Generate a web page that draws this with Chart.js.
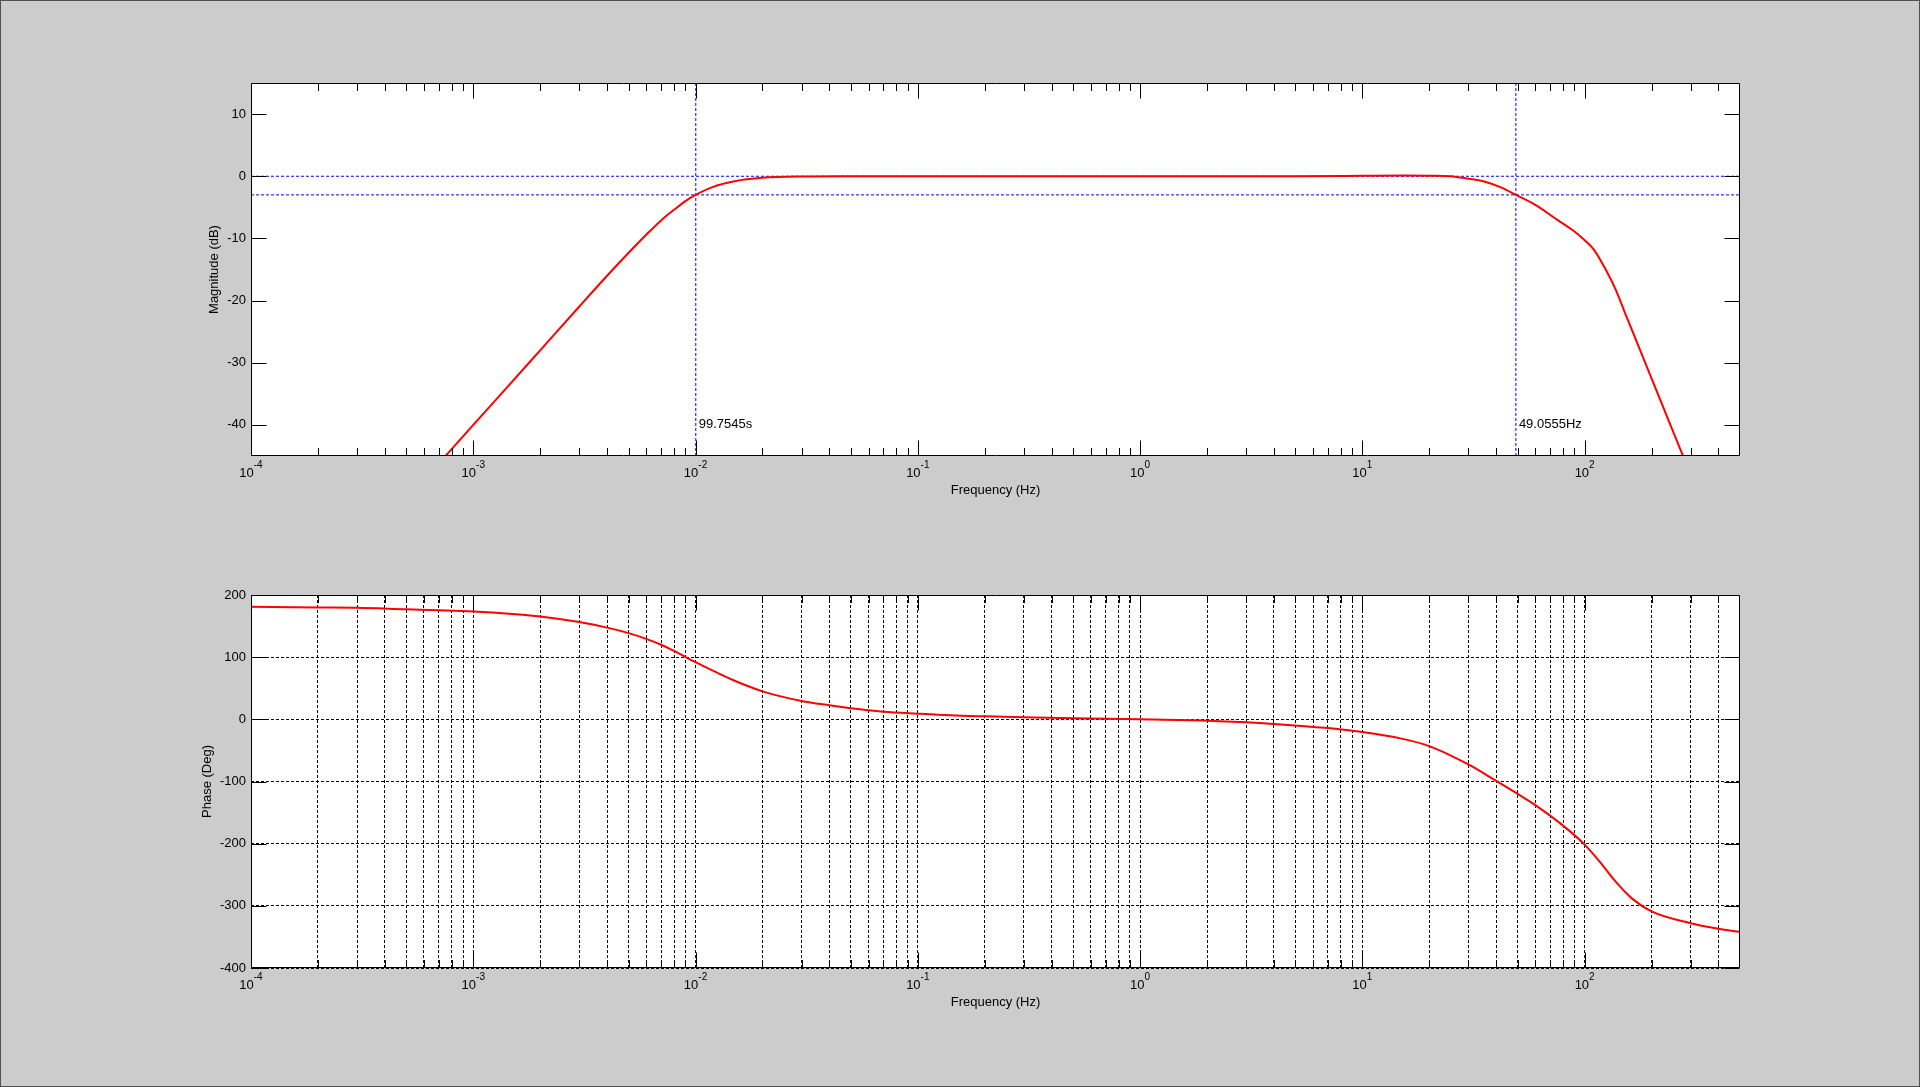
<!DOCTYPE html>
<html>
<head>
	<meta charset="utf-8">
	<script src="https://cdn.jsdelivr.net/npm/chart.js@4.4.1/dist/chart.umd.min.js"></script>
	<style>
	body{
		margin: 0;
		background: #cccccc;
		font-family: "Liberation Sans", Arial, sans-serif;
	}
	#frame{
		position: absolute;
		left: 0; top: 0;
		width: 1920px; height: 1087px;
		box-sizing: border-box;
		border: 1px solid #505050;
		overflow: hidden;
	}
	.holder{ position: absolute; left: 0; width: 1920px; }
	</style>
</head>
<body>
<div id="frame">
	<div class="holder" style="top:0px;height:530px;"><canvas id="mag" width="1920" height="530"></canvas></div>
	<div class="holder" style="top:530px;height:557px;"><canvas id="phase" width="1920" height="557"></canvas></div>
</div>

<script>
	// x axis: decades with minor steps, tick labels are the exponents
	var decades = [1e-4, 1e-3, 1e-2, 1e-1, 1, 10, 100];
	var decadeExp = ['-4', '-3', '-2', '-1', '0', '1', '2'];
	var minorSteps = [1, 2, 3, 4, 5, 6, 7, 8, 9];
	var freqMin = 1e-4, freqMax = 500;

	// y axes
	var magTicks = [-40, -30, -20, -10, 0, 10];
	var phaseTicks = [-400, -300, -200, -100, 0, 100, 200];

	// magnitude curve
	var magFreq = [7e-4, 1e-3, 1.5e-3, 2e-3, 3e-3, 4e-3, 5e-3, 6e-3, 7e-3, 8e-3, 9e-3, 0.010, 0.012, 0.015, 0.02, 0.03, 0.05, 0.1, 1, 5, 10, 15, 20, 25, 30, 35, 42, 49, 60, 76, 90, 100, 110, 120, 137, 152, 170, 200, 240, 275, 300];
	var magDb   = [-46.2, -40.0, -33.0, -28.0, -20.95, -16.0, -12.3, -9.4, -7.1, -5.4, -4.0, -3.0, -1.7, -0.8, -0.26, -0.05, -0.01, 0, 0, 0.02, 0.08, 0.12, 0.1, 0, -0.4, -0.8, -1.8, -3.0, -4.6, -7.1, -8.9, -10.3, -11.8, -14.0, -18.0, -22.0, -26.3, -32.5, -39.5, -44.7, -48.0];

	// phase curve
	var phaseFreq = [1e-4, 2e-4, 3e-4, 5e-4, 7e-4, 1e-3, 1.5e-3, 2e-3, 3e-3, 4e-3, 5e-3, 6e-3, 7e-3, 8e-3, 1e-2, 0.0125, 0.015, 0.02, 0.03, 0.04, 0.05, 0.07, 0.1, 0.14, 0.2, 0.3, 0.5, 1, 2, 3, 4, 5.3, 7, 10, 15, 20, 30, 40, 50, 60, 80, 100, 120, 137, 163, 200, 300, 400, 500];
	var phaseDeg  = [181, 180, 179.5, 177, 175.5, 173.5, 169.5, 165.6, 156.5, 147.5, 138.7, 129.5, 120, 110, 92, 75, 62, 45, 29.5, 22.5, 17.7, 12.3, 9.1, 6.5, 4.8, 3.2, 1.6, 0, -2.2, -4.8, -7.5, -10.8, -14, -20.4, -31, -43, -72.6, -99, -120, -138, -171, -201.6, -234, -260, -288, -309, -328, -337, -342];

	// -3 dB cursors
	var cursorFreq = [0.010025, 49.0555];
	var cursorText = ['99.7545s', '49.0555Hz'];
	var cursorDb = [0, -3];
	var cursorTextDb = -40;

	var FONT = '"Liberation Sans", Arial, sans-serif';
	Chart.defaults.color = '#000';
	Chart.defaults.font.family = FONT;
	Chart.defaults.font.size = 13;

	var xTicks = [];
	decades.forEach(function (d) {
		minorSteps.forEach(function (s) {
			var v = +(d * s).toPrecision(3);
			if (v >= freqMin && v < freqMax) xTicks.push({value: v, major: s === 1});
		});
	});

	function pts(xs, ys) {
		return xs.map(function (v, i) { return {x: v, y: ys[i]}; });
	}

	var matlabAxes = {
		id: 'matlabAxes',
		beforeDraw: function (chart) {
			var a = chart.chartArea, ctx = chart.ctx;
			ctx.save();
			ctx.fillStyle = '#ffffff';
			ctx.fillRect(a.left, a.top, a.right - a.left, a.bottom - a.top);
			ctx.restore();
		},
		afterDatasetsDraw: function (chart) {
			var ctx = chart.ctx, a = chart.chartArea, x = chart.scales.x, y = chart.scales.y;
			var L = Math.round(a.left) + 0.5, R = Math.round(a.right) - 0.5;
			var T = Math.round(a.top) + 0.5, B = Math.round(a.bottom) - 0.5;
			ctx.save();
			ctx.setLineDash([]);
			ctx.strokeStyle = '#000';
			ctx.lineWidth = 1;
			ctx.beginPath();
			x.ticks.forEach(function (t) {
				var px = Math.round(x.getPixelForValue(t.value)) + 0.5;
				var len = t.major ? 15 : 7.5;
				ctx.moveTo(px, T); ctx.lineTo(px, T + len);
				ctx.moveTo(px, B); ctx.lineTo(px, B - len);
			});
			y.ticks.forEach(function (t) {
				var py = Math.round(y.getPixelForValue(t.value)) + 0.5;
				ctx.moveTo(L, py); ctx.lineTo(L + 15, py);
				ctx.moveTo(R, py); ctx.lineTo(R - 15, py);
			});
			ctx.rect(L, T, R - L, B - T);
			ctx.stroke();

			// decade labels 10^n
			ctx.fillStyle = '#000';
			ctx.textBaseline = 'alphabetic';
			ctx.textAlign = 'left';
			decades.forEach(function (d, i) {
				var px = x.getPixelForValue(d);
				ctx.font = '13px ' + FONT;
				var wb = ctx.measureText('10').width;
				ctx.font = '10px ' + FONT;
				var we = ctx.measureText(decadeExp[i]).width;
				var x0 = px - (wb + we) / 2;
				ctx.font = '13px ' + FONT;
				ctx.fillText('10', x0, a.bottom + 21);
				ctx.font = '10px ' + FONT;
				ctx.fillText(decadeExp[i], x0 + wb, a.bottom + 12);
			});

			// cursor readouts
			if (chart.canvas.id === 'mag') {
				ctx.font = '13px ' + FONT;
				ctx.textBaseline = 'middle';
				cursorFreq.forEach(function (f, i) {
					ctx.fillText(cursorText[i], x.getPixelForValue(f) + 3, y.getPixelForValue(cursorTextDb));
				});
			}
			ctx.restore();
		}
	};

	function xScale(grid) {
		return {
			type: 'logarithmic',
			min: freqMin,
			max: freqMax,
			afterBuildTicks: function (scale) { scale.ticks = xTicks.map(function (t) { return {value: t.value, major: t.major}; }); },
			afterFit: function (scale) { scale.height = 50; },
			ticks: { display: false, autoSkip: false },
			grid: { display: grid, color: '#000', lineWidth: 1, drawTicks: false },
			border: { display: false, dash: [3, 2] },
			title: { display: true, text: 'Frequency (Hz)', padding: {top: 0, bottom: 8.2}, font: {size: 13} }
		};
	}

	function yScale(min, max, tickList, label, titlePad, grid) {
		return {
			type: 'linear',
			min: min,
			max: max,
			afterBuildTicks: function (scale) { scale.ticks = tickList.map(function (v) { return {value: v}; }); },
			afterFit: function (scale) { scale.width = 80; },
			ticks: { autoSkip: false, padding: 5, font: {size: 13} },
			grid: { display: grid, color: '#000', lineWidth: 1, drawTicks: false },
			border: { display: false, dash: [3, 2] },
			title: { display: true, text: label, padding: {top: titlePad, bottom: 0}, font: {size: 13} }
		};
	}

	var common = {
		responsive: false,
		animation: false,
		events: [],
		plugins: { legend: { display: false }, tooltip: { enabled: false } },
		elements: { point: { radius: 0 } }
	};

	var blue = { borderColor: '#0000ff', borderWidth: 1, borderDash: [3, 2], pointRadius: 0, clip: 0, tension: 0 };

	var magSets = [{
		data: pts(magFreq, magDb),
		borderColor: '#ff0000',
		borderWidth: 2,
		pointRadius: 0,
		cubicInterpolationMode: 'monotone',
		clip: 0
	}];
	cursorDb.forEach(function (v) {
		magSets.push(Object.assign({ data: [{x: freqMin, y: v}, {x: freqMax, y: v}] }, blue));
	});
	cursorFreq.forEach(function (f) {
		magSets.push(Object.assign({ data: [{x: f, y: -45}, {x: f, y: 15}] }, blue));
	});

	new Chart(document.getElementById('mag').getContext('2d'), {
		type: 'line',
		data: { datasets: magSets },
		options: Object.assign({}, common, {
			layout: { padding: { left: 170, right: 181, top: 82, bottom: 25 } },
			scales: { x: xScale(false), y: yScale(-45, 15, magTicks, 'Magnitude (dB)', 35.2, false) }
		}),
		plugins: [matlabAxes]
	});

	new Chart(document.getElementById('phase').getContext('2d'), {
		type: 'line',
		data: { datasets: [{
			data: pts(phaseFreq, phaseDeg),
			borderColor: '#ff0000',
			borderWidth: 2,
			pointRadius: 0,
			cubicInterpolationMode: 'monotone',
			clip: 0
		}] },
		options: Object.assign({}, common, {
			layout: { padding: { left: 170, right: 181, top: 64, bottom: 70 } },
			scales: { x: xScale(true), y: yScale(-400, 200, phaseTicks, 'Phase (Deg)', 28.2, true) }
		}),
		plugins: [matlabAxes]
	});
</script>
</body>
</html>
